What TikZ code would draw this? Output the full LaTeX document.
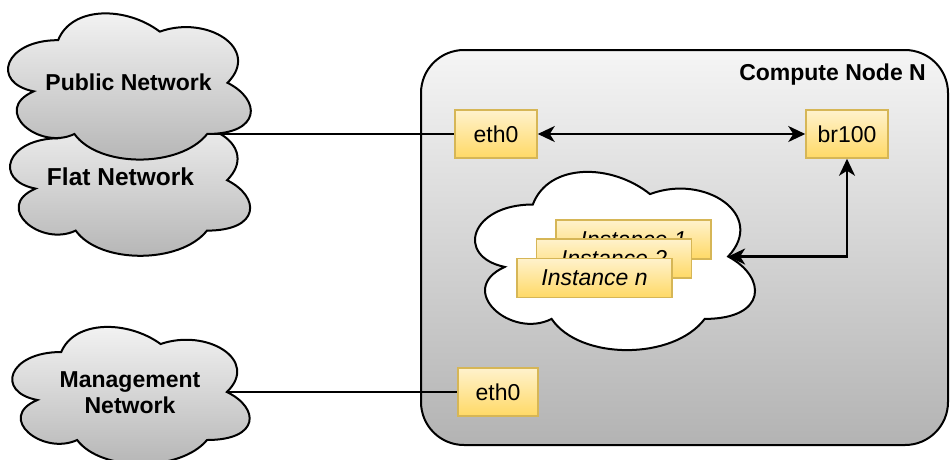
\documentclass[tikz,border=0pt]{standalone}
\usepackage{fontspec}
\setmainfont{Liberation Sans}
\usetikzlibrary{arrows.meta}

\definecolor{shadetop}{HTML}{F5F5F5}
\definecolor{shadebot}{HTML}{B3B3B3}
\definecolor{ytop}{HTML}{FFF2CC}
\definecolor{ybot}{HTML}{FFD966}
\definecolor{yline}{HTML}{D6B656}

\tikzset{
  graycloud/.style={draw=black, line width=2pt, top color=shadetop, bottom color=shadebot},
  whitecloud/.style={draw=black, line width=2pt, fill=white},
  lbl/.style={font=\fontsize{23}{26}\selectfont\bfseries, align=center, inner sep=0pt},
  port/.style={draw=yline, line width=1.5pt, top color=ytop, bottom color=ybot,
    minimum width=82pt, minimum height=48pt, inner sep=0pt, font=\fontsize{23}{26}\selectfont},
  vm/.style={port, minimum width=155pt, minimum height=39pt, font=\fontsize{23}{26}\selectfont\itshape},
  hostbox/.style={draw=black, line width=2pt, rounded corners=43pt, top color=shadetop,
    bottom color=shadebot, minimum width=527pt, minimum height=395pt, inner sep=0pt},
  link/.style={line width=1.5pt},
  conn/.style={line width=2.2pt,
    arrows={Stealth[length=17pt,width=16pt,inset=5pt]-Stealth[length=17pt,width=16pt,inset=5pt]}},
}

% cloud outline: #1 name, #2 left, #3 top, #4 width, #5 height, #6 style
\newcommand\netcloud[6]{%
  \begin{scope}[shift={(#2,#3)}, x=#4pt, y=-#5pt]
    \path[#6] (0.25,0.25) .. controls (0.05,0.25) and (0,0.5) .. (0.16,0.55)
      .. controls (0,0.66) and (0.18,0.9) .. (0.31,0.8)
      .. controls (0.4,1) and (0.7,1) .. (0.8,0.8)
      .. controls (1,0.8) and (1,0.6) .. (0.875,0.5)
      .. controls (1,0.3) and (0.8,0.1) .. (0.625,0.2)
      .. controls (0.5,0.05) and (0.3,0.05) .. (0.25,0.25) -- cycle;
    \coordinate (#1-r) at (0.875,0.5);
    \coordinate (#1-br) at (0.8,0.8);
  \end{scope}}

\begin{document}
\begin{tikzpicture}[x=1pt, y=-1pt]
  \useasboundingbox (0,0) rectangle (950,459);

  % compute node container
  \node[hostbox] (host) at (684.5,247.5) {};
  \node[lbl, anchor=east] (hostlabel) at (926,75) {Compute Node N};

  % instances cloud
  \netcloud{inst}{454.7}{152.5}{312.5}{208}{whitecloud}
  \node[vm] (vm1) at (633.5,239.5) {Instance 1};
  \node[vm] (vm2) at (614,258.5) {Instance 2};
  \node[vm] (vmn) at (594.5,278) {Instance n};

  % interfaces
  \node[port] (eth0a) at (496,134) {eth0};
  \node[port] (br100) at (847,134) {br100};
  \node[port, minimum width=80pt] (eth0b) at (498,392) {eth0};

  % external networks
  \netcloud{flat}{-7.4}{96.2}{268}{168}{graycloud}
  \netcloud{pub}{-9.6}{-2.5}{271}{170.6}{graycloud}
  \netcloud{mgmt}{-5}{312}{265}{160}{graycloud}
  \node[lbl] (publabel) at (128.5,82) {Public Network};
  \node[lbl, font=\fontsize{24.5}{28}\selectfont\bfseries] (flatlabel) at (120.5,177) {Flat Network};
  \node[lbl] (mgmtlabel) at (130,393) {Management\\Network};

  % connections
  \draw[link] (pub-br) -- (pub-br -| eth0a.west);
  \draw[link] (mgmt-r) -- (mgmt-r -| eth0b.west);
  \draw[conn] (eth0a) -- (br100);
  \draw[conn] (inst-r) -| (br100.south);
\end{tikzpicture}
\end{document}
